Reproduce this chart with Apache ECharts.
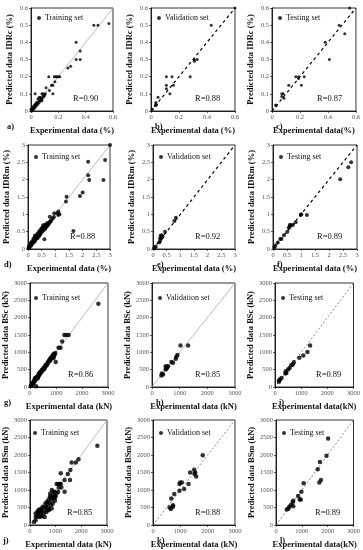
<!DOCTYPE html>
<html><head><meta charset="utf-8">
<script src="https://cdn.jsdelivr.net/npm/echarts@6/dist/echarts.min.js"></script>
<style>html,body{margin:0;padding:0;background:#fff}#c{width:363px;height:550px}</style>
</head><body><div id="c"></div>
<script>
// ---------- DATA ----------
const idrcTrain = [[0.46,0.50],[0.49,0.50],[0.57,0.51],[0.33,0.40],[0.36,0.35],[0.33,0.30],[0.36,0.30],[0.27,0.25],[0.29,0.26],
 [0.13,0.20],[0.17,0.20],[0.18,0.20],[0.19,0.20],[0.20,0.20],[0.21,0.20],[0.175,0.17],[0.16,0.15],[0.15,0.15],[0.16,0.10],[0.135,0.12],[0.11,0.135],
 [0.03,0.10],[0.08,0.10],[0.09,0.10],[0.105,0.10],[0.09,0.08],[0.07,0.08],[0.06,0.08],
 [0.005,0.0],[0.01,0.01],[0.01,0.02],[0.02,0.01],[0.02,0.02],[0.02,0.03],[0.03,0.02],[0.03,0.03],[0.03,0.04],[0.04,0.03],[0.04,0.04],[0.04,0.05],
 [0.05,0.04],[0.05,0.05],[0.06,0.05],[0.06,0.06],[0.07,0.06],[0.07,0.07],[0.08,0.06],[0.08,0.07],[0.05,0.07],[0.09,0.09],[0.10,0.09],[0.005,0.01],[0.0,0.01],[0.015,0.015]];
const idrcValid = [[0.6,0.6],[0.43,0.5],[0.31,0.30],[0.33,0.30],[0.31,0.29],[0.28,0.20],[0.11,0.20],[0.15,0.20],[0.11,0.15],[0.11,0.13],[0.16,0.15],
 [0.135,0.10],[0.05,0.08],[0.035,0.05],[0.035,0.04],[0.03,0.03],[0.04,0.035],[0.01,0.01]];
const idrcTest = [[0.555,0.6],[0.48,0.5],[0.52,0.45],[0.38,0.40],[0.41,0.30],[0.23,0.20],[0.17,0.20],[0.19,0.20],[0.19,0.19],[0.21,0.15],[0.12,0.15],
 [0.07,0.10],[0.08,0.10],[0.07,0.085],[0.085,0.075],[0.025,0.035],[0.03,0.03]];
const idrmTrain = [[3.0,3.0],[2.2,2.52],[2.82,2.57],[2.2,2.13],[2.24,1.99],[2.76,1.99],[2.0,1.63],[1.9,1.53],[1.41,1.51],[1.39,1.37],[1.66,0.52],[0.6,0.28],
 [1.11,0.98],[1.07,1.03],[1.15,1.0],[0.96,1.03],[0.8,0.93],[1.11,1.08],
 [0.05,0.03],[0.08,0.08],[0.1,0.12],[0.12,0.1],[0.15,0.15],[0.18,0.2],[0.2,0.18],[0.22,0.25],[0.25,0.22],[0.25,0.3],[0.28,0.28],[0.3,0.35],[0.32,0.3],
 [0.35,0.38],[0.35,0.32],[0.38,0.4],[0.4,0.42],[0.4,0.36],[0.42,0.45],[0.45,0.5],[0.45,0.42],[0.48,0.48],[0.5,0.55],[0.5,0.6],[0.52,0.5],[0.55,0.58],
 [0.55,0.62],[0.58,0.55],[0.6,0.6],[0.6,0.65],[0.62,0.58],[0.65,0.62],[0.65,0.68],[0.68,0.65],[0.7,0.7],[0.72,0.68],[0.75,0.72],[0.78,0.75],[0.8,0.78],
 [0.82,0.8],[0.85,0.82],[0.9,0.88],[0.95,0.92],[0.3,0.4],[0.25,0.38],[0.2,0.3],[0.15,0.22],[0.35,0.45],[0.4,0.5],[0.45,0.55],[0.55,0.68],[0.6,0.7],
 [0.7,0.75],[0.1,0.18],[0.05,0.1],[0.02,0.02],[0.03,0.06]];
const idrmValid = [[0.84,0.9],[0.78,0.81],[0.44,0.5],[0.32,0.4],[0.28,0.38],[0.26,0.31],[0.26,0.23],[0.23,0.19],[0.3,0.3],[0.35,0.35],[0.1,0.07],[0.06,0.04],[0.05,0.02]];
const idrmTest = [[2.79,2.5],[2.69,2.36],[2.4,2.01],[1.21,0.98],[1.01,1.0],[0.99,0.98],[0.81,0.77],[0.71,0.69],[0.63,0.69],[0.6,0.69],[0.6,0.64],[0.56,0.61],
 [0.51,0.5],[0.39,0.4],[0.3,0.29],[0.26,0.29],[0.17,0.19],[0.08,0.1],[0.05,0.05]];
const bscTrain = [[2630,2400],[1325,1500],[1400,1500],[1490,1500],[1240,1310],[1100,1135],[1175,1135],[975,980],[950,940],[990,720],[925,900],[890,865],[910,835],
 [30,30],[60,50],[100,80],[120,120],[150,140],[180,200],[200,180],[220,250],[250,230],[250,280],[280,260],[300,300],[320,340],[350,330],[370,380],[400,390],
 [420,430],[450,440],[480,500],[500,480],[520,540],[550,560],[570,550],[600,600],[620,640],[650,630],[680,700],[700,690],[730,750],[750,760],[780,770],[800,820],
 [830,840],[850,860],[870,880],[300,250],[350,400],[400,430],[450,480],[200,250],[150,170],[550,520],[600,620],[240,20],[280,290],[330,320],[120,100],[80,90],
 [700,720],[760,800],[820,850],[880,920],[920,950]];
const bscValid = [[1030,1200],[1305,1200],[920,920],[880,875],[860,815],[700,720],[760,700],[520,535],[495,600],[545,580],[580,600],[495,505],[545,553],[360,390],[400,360],[340,330]];
const bscTest = [[1340,1200],[1240,1007],[1080,910],[930,842],[720,716],[680,650],[620,630],[560,550],[500,503],[410,455],[435,407],[395,387],[250,260],[185,213],[160,184],[150,155]];
const bsmTrain = [[2625,2262],[1890,1880],[1790,1785],[1625,1785],[1575,1570],[1475,1457],[1560,1285],[1350,1285],[1350,950],[1200,1477],[1100,1170],[1160,1170],
 [1200,1170],[1040,1170],[1225,1075],[1125,1075],[975,786],[910,757],[850,730],[875,825],[950,853],[790,900],[850,997],[810,786],[725,730],[760,633],[690,614],
 [640,518],[575,500],[500,420],[450,374],[410,326],[350,278],[290,250],[225,134],[160,86],[325,420],[375,440],[290,374],[225,326],[500,518],[600,614],[700,500],
 [725,420],[640,374],[540,326],[410,250],[475,250],[575,230],[660,660],[825,566],[890,614],[975,690],[785,825],[1000,825],[910,950],[1040,900],[1100,950],[350,374],
 [450,470],[375,230],[225,230],[850,470],[750,440],[660,420],[950,950]];
const bsmValid = [[1820,1990],[1505,1577],[1545,1500],[1360,1500],[1520,1460],[1580,1385],[1300,1173],[1057,1211],[995,1211],[970,1173],[1140,1029],[970,980],
 [777,885],[668,760],[730,567],[730,520],[607,500],[655,460]];
const bsmTest = [[2018,2470],[1955,1980],[1700,1798],[1615,1596],[1740,1288],[1677,1211],[1072,1192],[984,952],[857,827],[958,731],[920,731],[668,692],[643,644],
 [567,567],[668,538],[517,519],[479,461],[416,442]];

const panelLetters = ['a)','b)','c)','d)','e)','f)','g)','h)','i)','j)','k)','l)'];
const setNames = ['Training set','Validation set','Testing set'];
const rValues = ['R=0.90','R=0.88','R=0.87','R=0.88','R=0.92','R=0.89','R=0.86','R=0.85','R=0.89','R=0.85','R=0.88','R=0.89'];
const yTitles = ['Predicted data IDRc (%)','Predicted data IDRc (%)','Predicted data IDRc (%)','Predicted data IDRm (%)','Predicted data IDRm (%)','Predicted data IDRm (%)',
 'Predicted data BSc (kN)','Predicted data BSc (kN)','Predicted data BSc (kN)','Predicted data BSm (kN)','Predicted data BSm (kN)','Predicted data BSm (kN)'];
const xTitles = ['Experimental data (%)','Experimental data (%)','Experimental data(%)','Experimental data (%)','Experimental data (%)','Experimental data (%)',
 'Experimental data (kN)','Experimental data (kN)','Experimental data(kN)','Experimental data (kN)','Experimental data (kN)','Experimental data(kN)'];
const axisMax = [0.6,0.6,0.6,3,3,3,3000,3000,3000,3000,3000,3000];
const xInterval = [0.2,0.2,0.2,0.5,0.5,0.5,1000,1000,1000,1000,1000,1000];
const yInterval = [0.1,0.1,0.1,0.5,0.5,0.5,500,500,500,500,500,500];
const allData = [idrcTrain,idrcValid,idrcTest,idrmTrain,idrmValid,idrmTest,bscTrain,bscValid,bscTest,bsmTrain,bsmValid,bsmTest];

// ---------- LAYOUT / STYLE ----------
const grids = [
 [31,8,82,103],[151,8,84,103],[272,8,85,103],
 [28,145,82,104],[153,145,82,104],[273,145,84,104],
 [28,283,80,104],[152,283,83,104],[275,283,81,104],
 [27,420,80,105],[153,420,82,105],[276,420,79,105]];
const diagStyle = [
 {color:'#aaa',width:0.8,type:'solid'},{color:'#000',width:1.2,type:[3,3]},{color:'#000',width:1.2,type:[3,3]},
 {color:'#aaa',width:0.8,type:'solid'},{color:'#000',width:1.2,type:[3,3]},{color:'#000',width:1.2,type:[3,3]},
 {color:'#aaa',width:0.8,type:'solid'},{color:'#aaa',width:0.8,type:'solid'},{color:'#555',width:0.7,type:[2,2]},
 {color:'#aaa',width:0.8,type:'solid'},{color:'#555',width:0.7,type:[2,2]},{color:'#555',width:0.7,type:[2,2]}];
const symSize = [3,3,3,4,4,4,4.5,4.5,4.5,4.5,4.5,4.5];
const FONT = '"Liberation Serif", "Times New Roman", serif';

const option = {backgroundColor:'#fff', animation:false, grid:[], xAxis:[], yAxis:[], series:[], legend:[], graphic:[]};
for (let i=0;i<12;i++){
  const [l,t,w,h] = grids[i];
  option.grid.push({left:l, top:t, width:w, height:h, show:true, borderColor:'#000', borderWidth:0.8});
  const axCommon = {gridIndex:i, type:'value', min:0, max:axisMax[i],
    axisLine:{show:true,onZero:false,lineStyle:{color:'#000',width:0.8}},
    axisTick:{show:true,length:2,lineStyle:{color:'#000',width:0.6}},
    splitLine:{show:false},
    axisLabel:{fontFamily:FONT,fontSize:6.5,color:'#555',margin:3,formatter:v=>String(v)},
    nameLocation:'middle',
    nameTextStyle:{fontFamily:FONT,fontSize:8.5,fontWeight:'bold',color:'#111'}};
  option.xAxis.push(Object.assign({}, axCommon, {interval:xInterval[i], name:xTitles[i], nameGap:15}));
  option.yAxis.push(Object.assign({}, axCommon, {interval:yInterval[i], name:yTitles[i], nameGap:17}));
  const setName = setNames[i%3];
  option.series.push({type:'scatter', name:setName, xAxisIndex:i, yAxisIndex:i, data:allData[i], symbol:'circle', symbolSize:symSize[i],
    itemStyle:{color:'#000'}, z:3});
  option.series.push({type:'line', xAxisIndex:i, yAxisIndex:i, data:[[0,0],[axisMax[i],axisMax[i]]], symbol:'none',
    lineStyle:diagStyle[i], silent:true, z:2});
  option.legend.push({data:[setName], left:l+6, top:t+(i<3?6:(i<6?8:(i<9?11:9))), itemWidth:4, itemHeight:4, itemGap:2, icon:'circle', padding:0,
    textStyle:{fontFamily:FONT,fontSize:8,color:'#111',padding:[0,0,0,-1]}, selectedMode:false});
  option.graphic.push({type:'text', left:l+w-40, top:t+h-17, style:{text:rValues[i], font:'8.5px '+FONT, fill:'#111'}});
  option.graphic.push({type:'text', left:(i%3===0?l-24:l+4), top:t+h+11, style:{text:panelLetters[i], font:'bold 8.5px '+FONT, fill:'#111'}});
}
const chart = echarts.init(document.getElementById('c'), null, {renderer:'canvas'});
chart.setOption(option);
</script></body></html>
